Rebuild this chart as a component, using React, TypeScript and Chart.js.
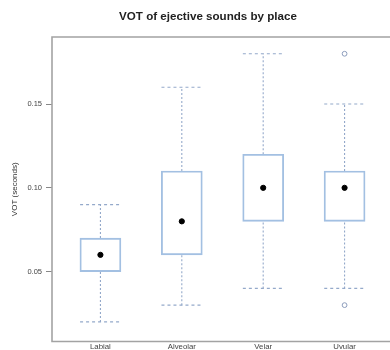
import React, { useEffect, useRef } from "react";
import { Chart, registerables } from "chart.js";

Chart.register(...registerables);

const categories = ["Labial", "Alveolar", "Velar", "Uvular"];
const lowWhisker = [0.02, 0.03, 0.04, 0.04];
const q1 = [0.05, 0.06, 0.08, 0.08];
const median = [0.06, 0.08, 0.1, 0.1];
const q3 = [0.07, 0.11, 0.12, 0.11];
const highWhisker = [0.09, 0.16, 0.18, 0.15];
const outliers: { group: number; value: number }[] = [
  { group: 4, value: 0.03 },
  { group: 4, value: 0.18 },
];
const yTicks = [0.05, 0.1, 0.15];
const titleText = "VOT of ejective sounds by place";
const yTitle = "VOT (seconds)";

const BOX_HALF = 0.25;
const BOX_COLOR = "#a3c0e2";
const WHISKER_COLOR = "#94a9ca";
const FONT = "'Liberation Sans', Arial, Helvetica, sans-serif";

export default function App() {
  const ref = useRef<HTMLCanvasElement | null>(null);

  useEffect(() => {
    if (!ref.current) return;
    document.body.style.margin = "0";

    const stems: any[] = [];
    const caps: any[] = [];
    categories.forEach((_, i) => {
      const x = i + 1;
      stems.push({ x, y: q3[i] }, { x, y: highWhisker[i] }, { x, y: null });
      stems.push({ x, y: lowWhisker[i] }, { x, y: q1[i] }, { x, y: null });
      caps.push({ x: x - BOX_HALF, y: highWhisker[i] }, { x: x + BOX_HALF, y: highWhisker[i] }, { x, y: null });
      caps.push({ x: x - BOX_HALF, y: lowWhisker[i] }, { x: x + BOX_HALF, y: lowWhisker[i] }, { x, y: null });
    });

    const framePlugin = {
      id: "frameAndTitle",
      afterDraw(chart: any) {
        const { ctx, chartArea } = chart;
        ctx.save();
        ctx.strokeStyle = "#a3a3a3";
        ctx.lineWidth = 1.6;
        ctx.beginPath();
        ctx.moveTo(chart.width + 5, chartArea.top);
        ctx.lineTo(chartArea.left, chartArea.top);
        ctx.lineTo(chartArea.left, chartArea.bottom);
        ctx.lineTo(chart.width + 5, chartArea.bottom);
        ctx.stroke();
        ctx.fillStyle = "#222";
        ctx.font = `bold 11.6px ${FONT}`;
        ctx.textAlign = "center";
        ctx.textBaseline = "middle";
        ctx.fillText(titleText, 208, 16.5);
        ctx.restore();
      },
    };

    const chart = new Chart(ref.current, {
      type: "bar",
      data: {
        datasets: [
          {
            type: "line",
            data: stems,
            borderColor: WHISKER_COLOR,
            borderWidth: 1.1,
            borderDash: [2, 2],
            pointRadius: 0,
            spanGaps: false,
            order: 3,
          } as any,
          {
            type: "line",
            data: caps,
            borderColor: WHISKER_COLOR,
            borderWidth: 1.1,
            borderDash: [3, 3],
            pointRadius: 0,
            spanGaps: false,
            order: 3,
          } as any,
          {
            type: "bar",
            data: categories.map((_, i) => ({ x: i + 1, y: [q1[i], q3[i]] })),
            backgroundColor: "rgba(255,255,255,0)",
            borderColor: BOX_COLOR,
            borderWidth: 1.2,
            borderSkipped: false,
            barThickness: 41,
            order: 2,
          } as any,
          {
            type: "scatter",
            data: categories.map((_, i) => ({ x: i + 1, y: median[i] })),
            backgroundColor: "#000",
            borderColor: "#000",
            pointRadius: 2.6,
            order: 1,
          } as any,
          {
            type: "scatter",
            data: outliers.map((o) => ({ x: o.group, y: o.value })),
            backgroundColor: "rgba(0,0,0,0)",
            borderColor: "#8c9cbc",
            borderWidth: 1,
            pointRadius: 2.4,
            order: 1,
          } as any,
        ],
      },
      options: {
        animation: false,
        responsive: false,
        devicePixelRatio: 1,
        layout: { padding: { top: 37, right: 7, left: 0, bottom: 0 } },
        plugins: {
          legend: { display: false },
          title: { display: false },
          tooltip: { enabled: false },
        },
        scales: {
          x: {
            type: "linear",
            min: 0.405,
            max: 4.595,
            offset: false,
            grid: { display: false, drawTicks: false, tickLength: 0 },
            border: { display: false },
            afterBuildTicks: (scale: any) => {
              scale.ticks = categories.map((_, i) => ({ value: i + 1 }));
            },
            afterFit: (scale: any) => {
              scale.height = 8;
            },
            ticks: {
              autoSkip: false,
              maxRotation: 0,
              padding: 1,
              color: "#444",
              font: { family: FONT, size: 7.8 },
              callback: (v: any) => categories[Number(v) - 1] ?? "",
            },
          },
          y: {
            type: "linear",
            min: 0.0083,
            max: 0.19,
            grid: {
              display: true,
              drawOnChartArea: false,
              drawTicks: true,
              tickLength: 6,
              color: "#888",
            },
            border: { display: false },
            afterBuildTicks: (scale: any) => {
              scale.ticks = yTicks.map((v) => ({ value: v }));
            },
            afterFit: (scale: any) => {
              scale.width = 52;
            },
            ticks: {
              padding: 4,
              color: "#444",
              font: { family: FONT, size: 7.5 },
              callback: (v: any) => Number(v).toFixed(2),
            },
            title: {
              display: true,
              text: yTitle,
              color: "#333",
              font: { family: FONT, size: 8 },
              padding: { top: 10, bottom: 0 },
            },
          },
        },
      } as any,
      plugins: [framePlugin],
    });

    return () => chart.destroy();
  }, []);

  return (
    <div style={{ position: "fixed", left: 0, top: 0, width: 390, height: 350, overflow: "hidden", background: "#fff" }}>
      <canvas ref={ref} width={400} height={350} style={{ width: 400, height: 350, display: "block" }} />
    </div>
  );
}
